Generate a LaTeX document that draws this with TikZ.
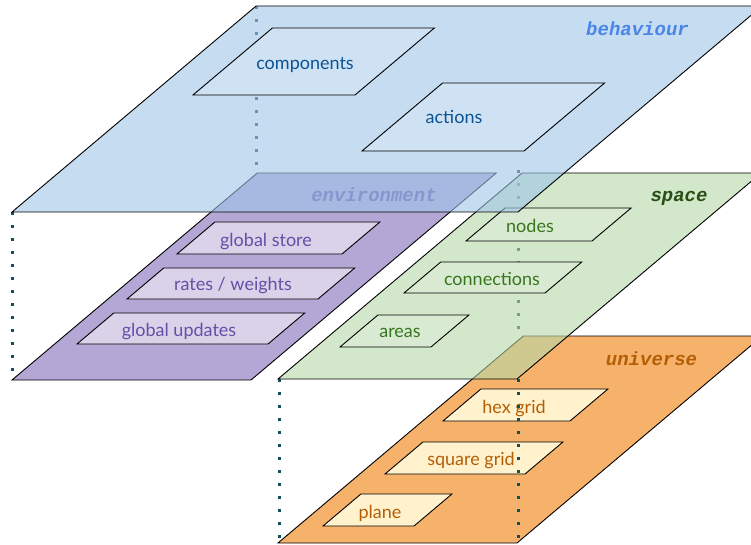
\documentclass[tikz,border=0pt]{standalone}
\usepackage{fontspec}
\newfontfamily\handfont{Lato}
\newfontfamily\titlefont{Liberation Mono}
\definecolor{bhfill}{HTML}{9FC5E8}
\definecolor{bhsub}{HTML}{CFE2F3}
\definecolor{bhtxt}{HTML}{0B5394}
\definecolor{bhttl}{HTML}{4A86E8}
\definecolor{envfill}{HTML}{B4A7D6}
\definecolor{envsub}{HTML}{D9D2E9}
\definecolor{envtxt}{HTML}{674EA7}
\definecolor{spfill}{HTML}{B6D7A8}
\definecolor{spsub}{HTML}{D9EAD3}
\definecolor{sptxt}{HTML}{38761D}
\definecolor{spttl}{HTML}{274E13}
\definecolor{unfill}{HTML}{F6B26B}
\definecolor{unsub}{HTML}{FFF2CC}
\definecolor{untxt}{HTML}{B45F06}
\definecolor{dotc}{HTML}{134F5C}
\tikzset{
  plane/.style={draw=black, line width=0.9pt, line join=miter},
  lbl/.style={font=\handfont\fontsize{18}{20}\selectfont, inner sep=0pt, anchor=base},
  ttl/.style={font=\titlefont\bfseries\itshape\fontsize{19}{21}\selectfont, inner sep=0pt, anchor=base},
  vdots/.style={draw=dotc, line width=3pt, dash pattern=on 3pt off 10pt},
}
\newcommand\plg[5]{\path[#1] (#2,#3) -- ++(#4,0) -- ++({1.185*#5},-#5) -- ++(-#4,0) -- cycle;}
\begin{document}
\begin{tikzpicture}[x=1pt,y=-1pt]
\useasboundingbox (0,0) rectangle (751,545);
\clip (0,0) rectangle (751,545);
% ---------- universe ----------
\plg{plane, fill=unfill}{278}{543}{239}{207}
\plg{plane, fill=unsub}{443}{421}{127}{32}
\plg{plane, fill=unsub}{385}{474}{140}{32}
\plg{plane, fill=unsub}{323}{526}{91}{32}
\node[ttl, text=untxt] (tun) at (651.5,365.5) {universe};
\node[lbl, text=untxt] (lhex) at (514,413) {hex grid};
\node[lbl, text=untxt] (lsq) at (471,465) {square grid};
\node[lbl, text=untxt] (lpl) at (380,518) {plane};
% dotted vertical edges below space
\coordinate (d1a) at (279,379);
\coordinate (d1b) at (279,543);
\coordinate (d2a) at (518,379);
\coordinate (d2b) at (518,543);
\draw[vdots] (d1a) -- (d1b);
\draw[vdots] (d2a) -- (d2b);
% dotted edge behind space
\coordinate (d3a) at (518,170);
\coordinate (d3b) at (518,333);
\draw[vdots] (d3a) -- (d3b);
% ---------- space ----------
\plg{plane, fill=spfill, fill opacity=0.6}{278}{379}{239}{206}
\plg{plane, fill=spsub}{466}{241}{126}{33}
\plg{plane, fill=spsub}{404}{293}{141}{31}
\plg{plane, fill=spsub}{340}{347}{91}{32}
\node[ttl, text=spttl] (tsp) at (679,202) {space};
\node[lbl, text=sptxt] (lnodes) at (530,232.5) {nodes};
\node[lbl, text=sptxt] (lconn) at (492,285) {connections};
\node[lbl, text=sptxt] (lareas) at (400,337.5) {areas};
% ---------- environment ----------
\plg{plane, fill=envfill}{12}{380}{239}{207}
\plg{plane, fill=envsub}{177}{254}{165}{32}
\plg{plane, fill=envsub}{127}{299}{191}{31}
\plg{plane, fill=envsub}{77}{344}{191}{31}
\node[ttl, text=envtxt] (tenv) at (374,201.5) {environment};
\node[lbl, text=envtxt] (lgs) at (266,246) {global store};
\node[lbl, text=envtxt] (lrw) at (233,290.5) {rates / weights};
\node[lbl, text=envtxt] (lgu) at (179,336.5) {global updates};
% dotted edges of behaviour
\coordinate (d4a) at (12,212);
\coordinate (d4b) at (12,380);
\coordinate (d5a) at (256,6);
\coordinate (d5b) at (256,173);
\draw[vdots] (d4a) -- (d4b);
\draw[vdots] (d5a) -- (d5b);
% ---------- behaviour ----------
\plg{plane, fill=bhfill, fill opacity=0.6}{12}{212}{506}{206}
\plg{plane, fill=bhsub}{193}{95}{162}{67}
\plg{plane, fill=bhsub}{362}{151}{162}{68}
\node[ttl, text=bhttl] (tbh) at (637.5,36) {behaviour};
\node[lbl, text=bhtxt] (lcomp) at (305,70) {components};
\node[lbl, text=bhtxt] (lact) at (454,124) {actions};
\end{tikzpicture}
\end{document}
